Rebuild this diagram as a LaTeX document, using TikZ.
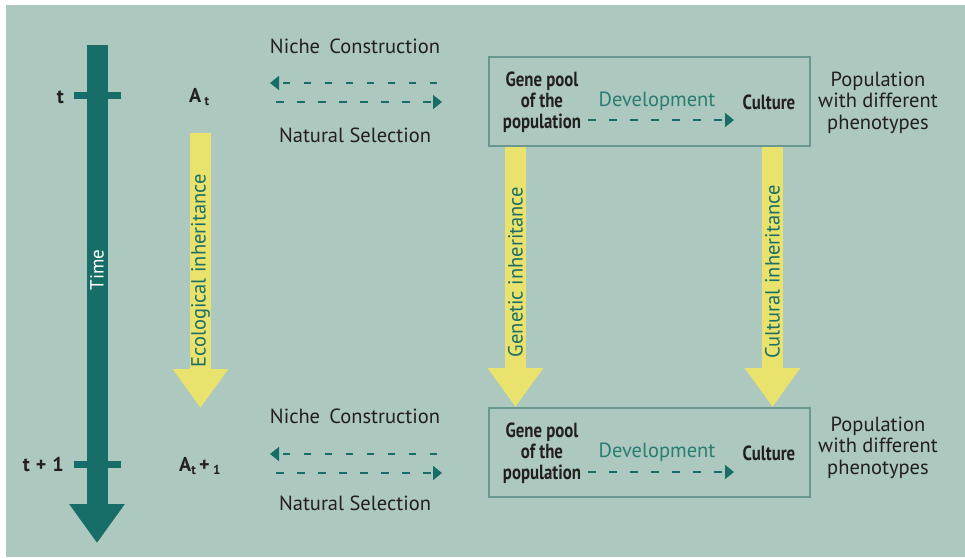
\documentclass[tikz,border=0pt]{standalone}
\usepackage{fontspec}
\setmainfont{PT Sans}
\newfontfamily\condfont[FakeStretch=0.82]{PT Sans}
\usetikzlibrary{arrows.meta}
\definecolor{bg}{HTML}{ADC8BF}
\definecolor{dteal}{HTML}{176E68}
\definecolor{yel}{HTML}{E9E36E}
\definecolor{tealtxt}{HTML}{1C6E66}
\definecolor{devtxt}{HTML}{2A7D73}
\definecolor{boxline}{HTML}{6A9890}
\definecolor{ink}{HTML}{231F20}
\begin{document}
\begin{tikzpicture}[x=1pt,y=-1pt,
  lbl/.style={font=\fontsize{20.5}{21.5}\selectfont, text=ink, inner sep=0pt, align=center},
  cond/.style={font=\condfont\bfseries\fontsize{20.5}{21}\selectfont, text=ink, inner sep=0pt, align=center},
  devlbl/.style={font=\fontsize{20.5}{21}\selectfont, text=devtxt, inner sep=0pt},
  inhlbl/.style={font=\fontsize{20.5}{21}\selectfont, text=tealtxt, inner sep=0pt, rotate=90},
  timelbl/.style={font=\fontsize{19}{21}\selectfont, text=white, inner sep=0pt, rotate=90},
  ticklbl/.style={font=\bfseries\fontsize{20}{21}\selectfont, text=ink, inner sep=0pt},
  popbox/.style={draw=boxline, line width=2pt, minimum width=321pt, minimum height=89pt, inner sep=0pt},
  bigarrow/.style={line width=21pt, -{Triangle[width=53pt,length=39pt]}},
  timearrow/.style={bigarrow, draw=dteal},
  inharrow/.style={bigarrow, draw=yel},
  dasharrow/.style={draw=dteal, line width=1.7pt, dash pattern=on 7.5pt off 13.5pt, -{Triangle[width=14pt,length=9pt]}},
  tick/.style={draw=dteal, line width=7pt}
]
\useasboundingbox (0,0) rectangle (965,557);
\fill[bg] (6,5) rectangle (965,557);

% time axis
\coordinate (timetop) at (97,45);
\coordinate (timetip) at (97,543);
\draw[timearrow] (timetop) -- (timetip);
\coordinate (t0a) at (74,95.5);
\coordinate (t0b) at (121,95.5);
\coordinate (t1a) at (74,464.5);
\coordinate (t1b) at (121,464.5);
\draw[tick] (t0a) -- (t0b);
\draw[tick] (t1a) -- (t1b);
\node[timelbl] (time) at (97,270) {Time};
\node[ticklbl, anchor=east] (tlab) at (64,97) {t};
\node[ticklbl, anchor=east] (t1lab) at (64,465) {t\hspace{0.3em}+\hspace{0.3em}1};

% environment states
\node[ticklbl, anchor=west] (At) at (189,97) {A\,\raisebox{-0.35ex}{\fontsize{13}{13}\selectfont t}};
\node[ticklbl, anchor=west] (At1) at (179,466) {A\raisebox{-0.35ex}{\fontsize{13}{13}\selectfont t}\,+\,\raisebox{-0.35ex}{\fontsize{13}{13}\selectfont 1}};

% ecological inheritance
\coordinate (ecotop) at (200.5,133);
\coordinate (ecotip) at (200.5,408);
\draw[inharrow] (ecotop) -- (ecotip);
\node[inhlbl] (ecolbl) at (200.5,271) {Ecological inheritance};

% niche construction / natural selection, top
\node[lbl] (nc0) at (355,46) {Niche\hspace{0.45em}Construction};
\node[lbl] (ns0) at (355,135) {Natural Selection};
\coordinate (nc0r) at (437,83);
\coordinate (nc0l) at (270,83);
\coordinate (ns0l) at (276,102);
\coordinate (ns0r) at (442,102);
\draw[dasharrow] (nc0r) -- (nc0l);
\draw[dasharrow] (ns0l) -- (ns0r);

% niche construction / natural selection, bottom
\node[lbl] (nc1) at (355,416) {Niche\hspace{0.45em}Construction};
\node[lbl] (ns1) at (355,503) {Natural Selection};
\coordinate (nc1r) at (437,454);
\coordinate (nc1l) at (270,454);
\coordinate (ns1l) at (276,473);
\coordinate (ns1r) at (442,473);
\draw[dasharrow] (nc1r) -- (nc1l);
\draw[dasharrow] (ns1l) -- (ns1r);

% population boxes
\node[popbox] (box0) at (649.5,101.5) {};
\node[popbox] (box1) at (649.5,452.5) {};

\node[cond] (gp0) at (542,102.5) {Gene pool\\of the\\population};
\node[devlbl] (dev0) at (657,101.5) {Development};
\node[cond] (cul0) at (769,102) {Culture};
\coordinate (d0a) at (588,120);
\coordinate (d0b) at (734,120);
\draw[dasharrow] (d0a) -- (d0b);
\node[lbl] (pop0) at (878,102.5) {Population\\with different\\phenotypes};

\node[cond] (gp1) at (542,453.5) {Gene pool\\of the\\population};
\node[devlbl] (dev1) at (657,452.5) {Development};
\node[cond] (cul1) at (769,453) {Culture};
\coordinate (d1a) at (588,472);
\coordinate (d1b) at (734,472);
\draw[dasharrow] (d1a) -- (d1b);
\node[lbl] (pop1) at (878,447.5) {Population\\with different\\phenotypes};

% genetic and cultural inheritance
\coordinate (gentop) at (515.5,146.5);
\coordinate (gentip) at (515.5,407);
\draw[inharrow] (gentop) -- (gentip);
\node[inhlbl] (genlbl) at (515.5,272) {Genetic inheritance};
\coordinate (cultop) at (772.5,146.5);
\coordinate (cultip) at (772.5,407);
\draw[inharrow] (cultop) -- (cultip);
\node[inhlbl] (cullbl) at (772.5,272) {Cultural inheritance};
\end{tikzpicture}
\end{document}
